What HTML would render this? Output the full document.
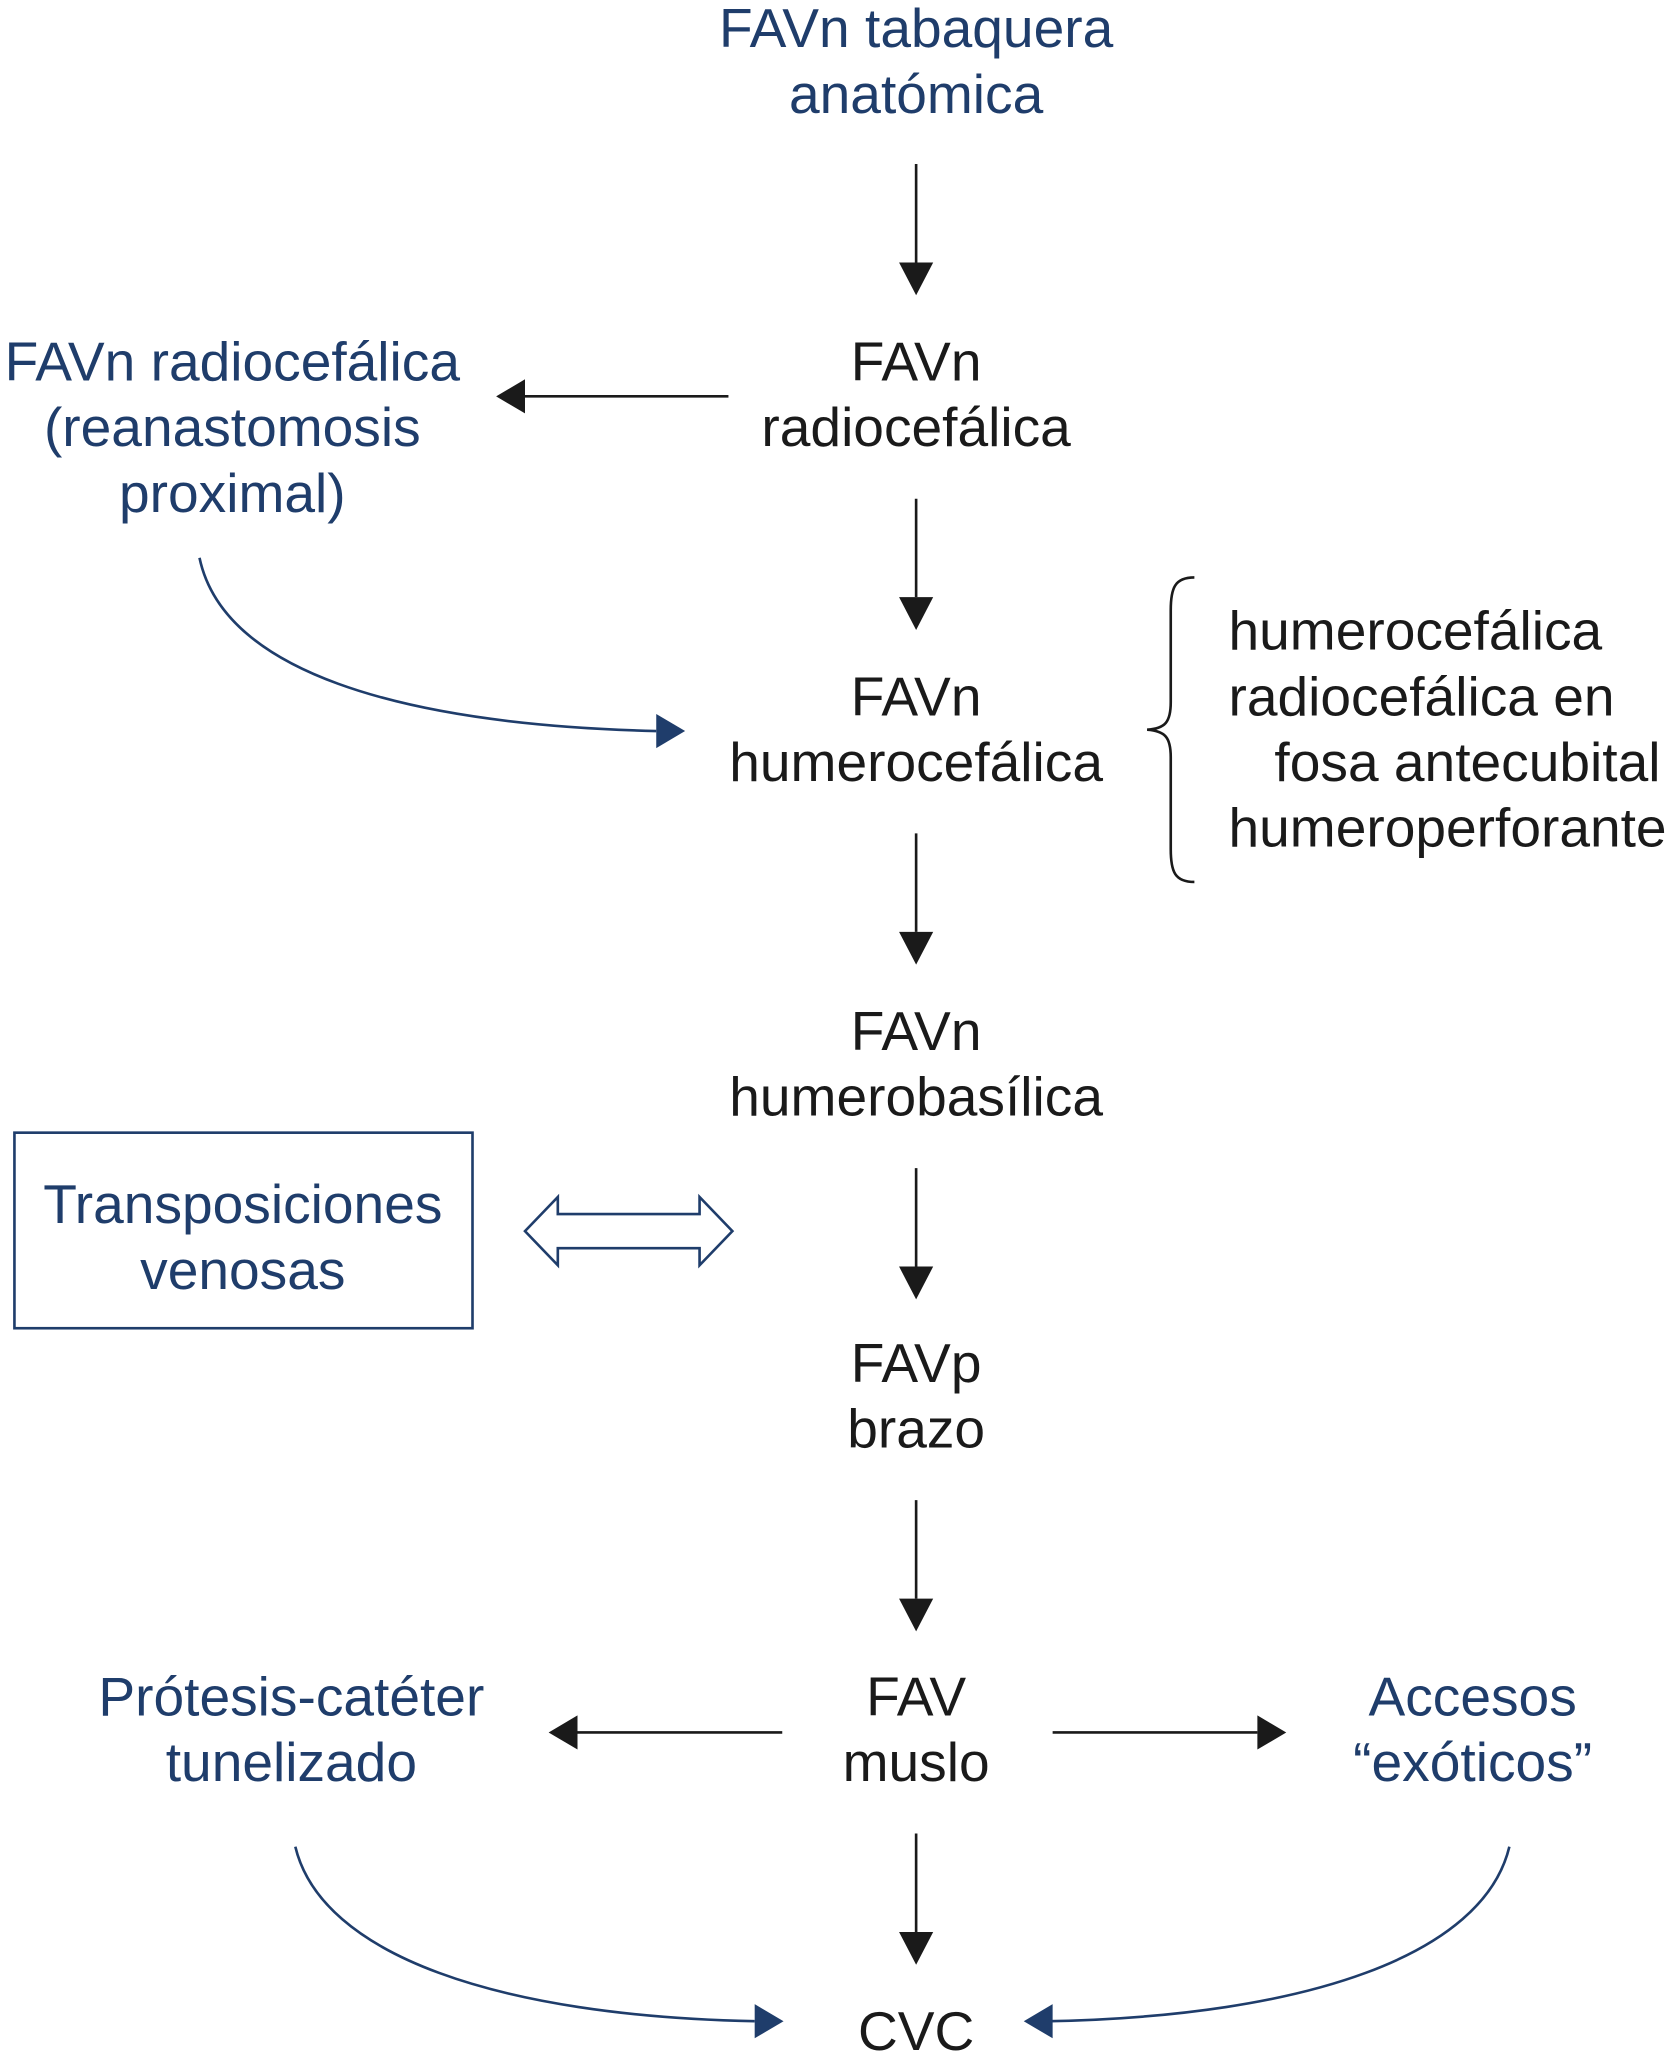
<!DOCTYPE html>
<html><head><meta charset="utf-8"><style>
html,body{margin:0;padding:0;background:#fff;}
svg{display:block;}
text{font-family:"Liberation Sans",sans-serif;font-size:42px;}
.b{fill:#1f3d6b;}
.k{fill:#1a1a1a;}
</style></head><body>
<svg width="1680" height="2056" viewBox="0 0 1280 1566.5" preserveAspectRatio="none" xmlns="http://www.w3.org/2000/svg">
<g text-anchor="middle">
<text class="b" x="698" y="36">FAVn tabaquera</text>
<text class="b" x="698" y="86">anatómica</text>
<text class="k" x="698" y="290">FAVn</text>
<text class="k" x="698" y="340">radiocefálica</text>
<text class="b" x="177" y="290">FAVn radiocefálica</text>
<text class="b" x="177" y="340">(reanastomosis</text>
<text class="b" x="177" y="390">proximal)</text>
<text class="k" x="698" y="545">FAVn</text>
<text class="k" x="698" y="595">humerocefálica</text>
<text class="k" x="698" y="800">FAVn</text>
<text class="k" x="698" y="850">humerobasílica</text>
<text class="b" x="185" y="932">Transposiciones</text>
<text class="b" x="185" y="982">venosas</text>
<text class="k" x="698" y="1053">FAVp</text>
<text class="k" x="698" y="1103">brazo</text>
<text class="k" x="698" y="1307">FAV</text>
<text class="k" x="698" y="1357">muslo</text>
<text class="b" x="222" y="1307">Prótesis-catéter</text>
<text class="b" x="222" y="1357">tunelizado</text>
<text class="b" x="1122" y="1307">Accesos</text>
<text class="b" x="1122" y="1357">“exóticos”</text>
<text class="k" x="698" y="1562">CVC</text>
</g>
<g>
<text class="k" x="936" y="495">humerocefálica</text>
<text class="k" x="936" y="545">radiocefálica en</text>
<text class="k" x="971" y="595">fosa antecubital</text>
<text class="k" x="936" y="645">humeroperforante</text>
</g>
<g stroke="#1a1a1a" stroke-width="2" fill="none">
<line x1="698" y1="125" x2="698" y2="200"/>
<line x1="698" y1="380" x2="698" y2="455"/>
<line x1="698" y1="635" x2="698" y2="710"/>
<line x1="698" y1="890" x2="698" y2="965"/>
<line x1="698" y1="1143" x2="698" y2="1218"/>
<line x1="698" y1="1397" x2="698" y2="1472"/>
<line x1="555" y1="302" x2="400" y2="302"/>
<line x1="596" y1="1320" x2="440" y2="1320"/>
<line x1="802" y1="1320" x2="958" y2="1320"/>
<path d="M910,440 C895,440 892,448 892,465 L892,535 C892,550 888,555 874,556 C888,557 892,562 892,577 L892,647 C892,664 895,672 910,672"/>
</g>
<g fill="#1a1a1a">
<path d="M685,200 L711,200 L698,225 Z"/>
<path d="M685,455 L711,455 L698,480 Z"/>
<path d="M685,710 L711,710 L698,735 Z"/>
<path d="M685,965 L711,965 L698,990 Z"/>
<path d="M685,1218 L711,1218 L698,1243 Z"/>
<path d="M685,1472 L711,1472 L698,1497 Z"/>
<path d="M400,289 L400,315 L378,302 Z"/>
<path d="M440,1307 L440,1333 L418,1320 Z"/>
<path d="M958,1307 L958,1333 L980,1320 Z"/>
</g>
<g stroke="#1f3d6b" stroke-width="2" fill="none">
<rect x="11" y="863" width="349" height="149"/>
<path d="M152,425 C170,510 300,552 500,557"/>
<path d="M225,1407 C245,1490 380,1536 575,1540"/>
<path d="M1150,1407 C1130,1490 995,1536 800,1540"/>
<path d="M400,938 L425,912 L425,925 L533,925 L533,912 L558,938 L533,964 L533,951 L425,951 L425,964 Z"/>
</g>
<g fill="#1f3d6b">
<path d="M500,544 L500,570 L522,557 Z"/>
<path d="M575,1527 L575,1553 L597,1540 Z"/>
<path d="M802,1527 L802,1553 L780,1540 Z"/>
</g>
</svg>
</body></html>
